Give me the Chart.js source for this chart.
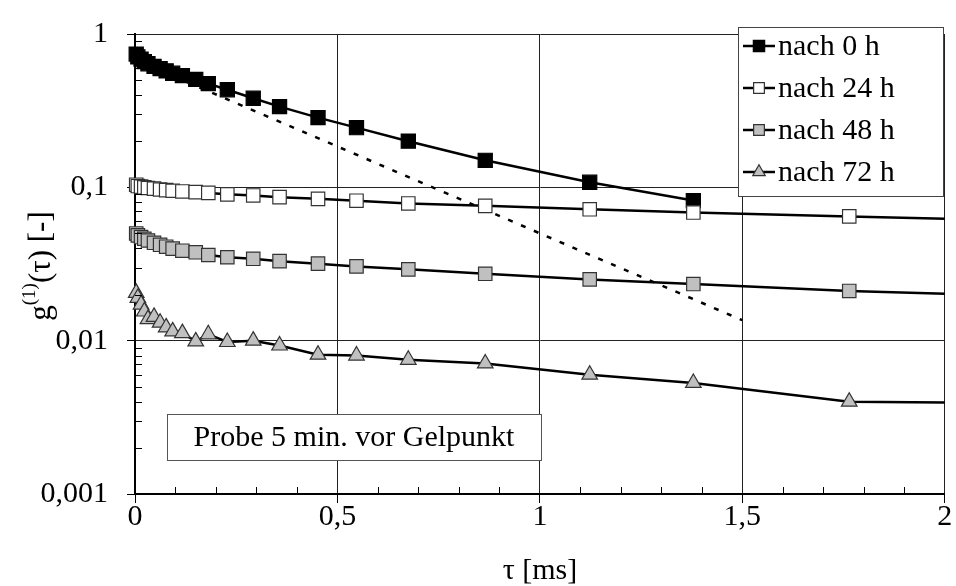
<!DOCTYPE html>
<html>
<head>
<meta charset="utf-8">
<script src="https://cdn.jsdelivr.net/npm/chart.js@4/dist/chart.umd.min.js"></script>
<style>
    body { margin: 0; background: #fff; }
    canvas { display: block; }
</style>
</head>
<body>
<canvas id="corrChart" width="956" height="586"></canvas>
<script>
// lag times tau [ms] (shared by all series)
const tau = [0.003, 0.007, 0.015, 0.023, 0.032, 0.047, 0.062, 0.077, 0.093, 0.117, 0.150, 0.181,
             0.228, 0.292, 0.357, 0.452, 0.547, 0.675, 0.865, 1.123, 1.379, 1.764, 2.25];

// g1(tau) for each series
const g0h  = [0.74, 0.71, 0.685, 0.66, 0.64, 0.615, 0.595, 0.575, 0.555, 0.535, 0.506, 0.475,
              0.433, 0.381, 0.336, 0.285, 0.245, 0.200, 0.150, 0.108, 0.082];
const g24h = [0.104, 0.102, 0.101, 0.100, 0.099, 0.098, 0.0968, 0.0958, 0.095, 0.094, 0.093, 0.092,
              0.090, 0.0885, 0.0863, 0.0841, 0.0818, 0.0785, 0.0757, 0.0719, 0.0685, 0.0646, 0.060];
const g48h = [0.050, 0.0486, 0.0474, 0.0462, 0.045, 0.0435, 0.0422, 0.041, 0.0398, 0.0386, 0.0377, 0.0362,
              0.0350, 0.0342, 0.0330, 0.0318, 0.0305, 0.0292, 0.0273, 0.0251, 0.0234, 0.0211, 0.0193];
const g72h = [0.0205, 0.019, 0.0172, 0.0155, 0.0138, 0.0143, 0.0131, 0.0122, 0.0115, 0.0112, 0.0099, 0.0110,
              0.0098, 0.0100, 0.0093, 0.0081, 0.0080, 0.0075, 0.0071, 0.0060, 0.0053, 0.0040, 0.0039];

// dashed initial-slope line
const fitTau = [0, 1.5];
const fitG = [0.68, 0.0136];

const seriesLabels = ['nach 0 h', 'nach 24 h', 'nach 48 h', 'nach 72 h'];
const xTicks = [0, 0.5, 1, 1.5, 2];
const yTicks = [0.001, 0.01, 0.1, 1];
const noteText = 'Probe 5 min. vor Gelpunkt';

const FONT = '"Liberation Serif", "Times New Roman", serif';
const FS = 30;

function toPoints(xs, ys) {
    return ys.map((y, i) => ({ x: xs[i], y: y }));
}

const seriesStyle = [
    { pointStyle: 'rect', radius: 10, fill: '#000000', stroke: '#000000' },
    { pointStyle: 'rect', radius: 9.5, fill: '#ffffff', stroke: '#333333' },
    { pointStyle: 'rect', radius: 9.5, fill: '#c0c0c0', stroke: '#333333' },
    { pointStyle: 'triangle', radius: 9, fill: '#c0c0c0', stroke: '#333333' }
];

const seriesData = [g0h, g24h, g48h, g72h];
const clipBox = { left: 14, top: 14, right: 0, bottom: 14 };

const datasets = seriesData.map((vals, i) => ({
    label: seriesLabels[i],
    data: toPoints(tau, vals),
    borderColor: '#000',
    borderWidth: 2.5,
    tension: 0,
    pointStyle: seriesStyle[i].pointStyle,
    pointRadius: seriesStyle[i].radius,
    pointBackgroundColor: seriesStyle[i].fill,
    pointBorderColor: seriesStyle[i].stroke,
    pointBorderWidth: 1.2,
    clip: clipBox,
    order: 4 - i
}));

datasets.push({
    label: 'fit',
    data: toPoints(fitTau, fitG),
    borderColor: '#000',
    borderWidth: 2.5,
    borderDash: [5, 9],
    pointRadius: 0,
    clip: clipBox,
    order: 10
});

function drawMarker(ctx, style, r, x, y) {
    if (style === 'triangle') {
        ctx.moveTo(x, y - r);
        ctx.lineTo(x + r * 0.866, y + r * 0.5);
        ctx.lineTo(x - r * 0.866, y + r * 0.5);
        ctx.closePath();
    } else {
        const s = r * Math.SQRT1_2;
        ctx.rect(x - s, y - s, 2 * s, 2 * s);
    }
}

// extra drawing: minor ticks, axis titles, legend box, note box
const decorPlugin = {
    id: 'decor',
    afterDraw(chart) {
        const ctx = chart.ctx;
        const area = chart.chartArea;
        const xs = chart.scales.x;
        const ys = chart.scales.y;
        const mainFont = FS + 'px ' + FONT;
        ctx.save();

        // minor ticks pointing inward
        ctx.strokeStyle = '#000';
        ctx.lineWidth = 1;
        ctx.beginPath();
        for (let e = -3; e < 0; e++) {
            for (let k = 2; k <= 9; k++) {
                const py = Math.round(ys.getPixelForValue(k * Math.pow(10, e))) + 0.5;
                ctx.moveTo(area.left, py);
                ctx.lineTo(area.left + 7, py);
            }
        }
        for (let k = 1; k < 20; k++) {
            if (k % 5 === 0) continue;
            const px = Math.round(xs.getPixelForValue(k / 10)) + 0.5;
            ctx.moveTo(px, area.bottom);
            ctx.lineTo(px, area.bottom - 7);
        }
        ctx.stroke();

        // x title
        ctx.fillStyle = '#000';
        ctx.font = mainFont;
        ctx.textAlign = 'center';
        ctx.textBaseline = 'middle';
        ctx.fillText('τ [ms]', (area.left + area.right) / 2, 571);

        // y title with superscript
        ctx.save();
        ctx.translate(42, 266);
        ctx.rotate(-Math.PI / 2);
        const titleFont = '31px ' + FONT;
        const supFont = '19px ' + FONT;
        ctx.font = titleFont;
        const wG = ctx.measureText('g').width;
        const wRest = ctx.measureText('(τ) [-]').width;
        ctx.font = supFont;
        const wSup = ctx.measureText('(1)').width;
        let cx = -(wG + wSup + wRest) / 2;
        ctx.textAlign = 'left';
        ctx.font = titleFont;
        ctx.fillText('g', cx, 0);
        cx += wG;
        ctx.font = supFont;
        ctx.fillText('(1)', cx, -12);
        cx += wSup;
        ctx.font = titleFont;
        ctx.fillText('(τ) [-]', cx, 0);
        ctx.restore();

        // legend
        const lx = 738, ly = 27, lw = 205, lh = 169;
        ctx.fillStyle = '#fff';
        ctx.fillRect(lx, ly, lw, lh);
        ctx.strokeStyle = '#444';
        ctx.lineWidth = 1;
        ctx.strokeRect(lx + 0.5, ly + 0.5, lw, lh);
        seriesLabels.forEach((lab, i) => {
            const yy = ly + 19 + i * 42;
            ctx.strokeStyle = '#000';
            ctx.lineWidth = 2.5;
            ctx.beginPath();
            ctx.moveTo(lx + 5, yy);
            ctx.lineTo(lx + 37, yy);
            ctx.stroke();
            const st = seriesStyle[i];
            ctx.fillStyle = st.fill;
            ctx.strokeStyle = st.stroke;
            ctx.lineWidth = 1.2;
            ctx.beginPath();
            drawMarker(ctx, st.pointStyle, st.radius * 0.8, lx + 21, yy);
            ctx.fill();
            ctx.stroke();
            ctx.fillStyle = '#000';
            ctx.font = mainFont;
            ctx.textAlign = 'left';
            ctx.textBaseline = 'middle';
            ctx.fillText(lab, lx + 40, yy + 1);
        });

        // note box
        const bx = 167, by = 414, bw = 374, bh = 46;
        ctx.fillStyle = '#fff';
        ctx.fillRect(bx, by, bw, bh);
        ctx.strokeStyle = '#555';
        ctx.lineWidth = 1;
        ctx.strokeRect(bx + 0.5, by + 0.5, bw, bh);
        ctx.fillStyle = '#000';
        ctx.font = mainFont;
        ctx.textAlign = 'center';
        ctx.textBaseline = 'middle';
        ctx.fillText(noteText, bx + bw / 2, by + bh / 2 + 1);

        ctx.restore();
    }
};

const ctx = document.getElementById('corrChart').getContext('2d');
const chart = new Chart(ctx, {
    type: 'line',
    data: { datasets: datasets },
    options: {
        responsive: false,
        animation: false,
        layout: { padding: { left: 0, right: 9, top: 24, bottom: 0 } },
        plugins: {
            legend: { display: false },
            tooltip: { enabled: false }
        },
        scales: {
            x: {
                type: 'linear',
                min: 0,
                max: 2,
                afterBuildTicks: scale => { scale.ticks = xTicks.map(v => ({ value: v })); },
                afterFit: scale => { scale.height = 92; },
                ticks: {
                    color: '#000',
                    font: { family: FONT, size: FS, lineHeight: 1 },
                    padding: -1,
                    maxRotation: 0,
                    callback: v => String(v).replace('.', ',')
                },
                grid: { color: '#222', lineWidth: 1, tickLength: 9, tickColor: '#000' },
                border: { color: '#000', width: 2 }
            },
            y: {
                type: 'logarithmic',
                min: 0.001,
                max: 1,
                afterBuildTicks: scale => { scale.ticks = yTicks.map(v => ({ value: v })); },
                afterFit: scale => { scale.width = 135; },
                ticks: {
                    color: '#000',
                    font: { family: FONT, size: FS, lineHeight: 1 },
                    padding: 19,
                    callback: v => String(v).replace('.', ',')
                },
                grid: { color: '#222', lineWidth: 1, tickLength: 8, tickColor: '#000' },
                border: { color: '#000', width: 2 }
            }
        }
    },
    plugins: [decorPlugin]
});
</script>
</body>
</html>
